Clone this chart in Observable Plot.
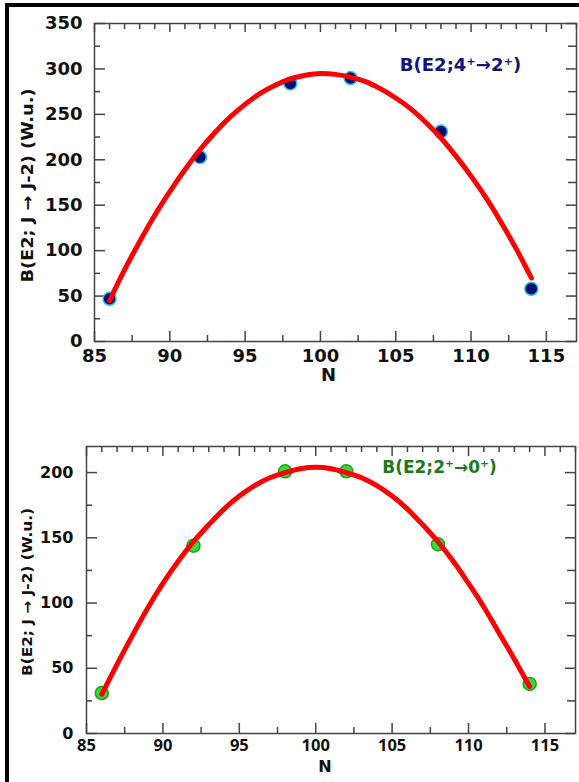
<!DOCTYPE html>
<html><head><meta charset="utf-8">
<script src="https://cdn.jsdelivr.net/npm/d3@7"></script>
<script src="https://cdn.jsdelivr.net/npm/@observablehq/plot@0.6"></script>
<style>
body{margin:0;background:#fff;}
#wrap{position:relative;width:579px;height:782px;overflow:hidden;background:#fff;}
#frame{position:absolute;left:5px;top:3px;width:600px;height:800px;border-left:4px solid #000;border-top:4px solid #000;box-sizing:border-box;}
.panel{position:absolute;left:0;}
.panel svg{display:block;overflow:visible;}
</style></head><body>
<div id="wrap"><div id="frame"></div><div id="p1" class="panel" style="top:0"></div><div id="p2" class="panel" style="top:400px"></div></div>
<script>
// experimental points
const N = [86, 92, 98, 102, 108, 114];
const be2_4to2 = [47, 203, 284, 290, 231, 58];
const be2_2to0 = [31, 144, 201, 201, 145, 38];
// fitted curves
const fitN   = [86, 87, 88, 89, 90, 91, 92, 93, 94, 95, 96, 97, 98, 99, 100, 101, 102, 103, 104, 105, 106, 107, 108, 109, 110, 111, 112, 113, 114];
const fit4to2 = [45, 79, 110, 139, 165, 189, 211, 230, 247, 261, 273, 282, 289, 293, 295, 294, 291, 286, 278, 268, 256, 241, 224, 204, 182, 158, 131, 102, 70];
const fit2to0 = [30, 53, 75, 96, 115, 132, 147, 160, 172, 182, 190, 196, 200, 203, 204, 203, 200, 196, 190, 182, 172, 160, 147, 132, 115, 97, 77, 57, 36];
// tick labels
const xTickLabels = [85, 90, 95, 100, 105, 110, 115];
const yTickLabelsTop = [0, 50, 100, 150, 200, 250, 300, 350];
const yTickLabelsBottom = [0, 50, 100, 150, 200];
const yLabelText = "B(E2; J \u2192 J-2) (W.u.)";
const xLabelText = "N";
const label4to2 = "B(E2;4\u207A\u21922\u207A)";
const label2to0 = "B(E2;2\u207A\u21920\u207A)";

const FONT = "DejaVu Sans";
const AX = "#444";

function panel(o) {
  const innerW = o.width - o.ml - o.mr;
  const innerH = o.height - o.mt - o.mb;
  const xMajor = d3.range(85, 117.01, 5);
  const xBottomMinor = d3.range(87.5, 117, 5);
  const xTopMinor = d3.range(85, 117.01, 1).filter(v => v % 5 !== 0);
  const yAll = d3.range(0, o.yMax + 0.01, 25);
  const yMaj = yAll.filter(v => v % 50 === 0);
  const yMin = yAll.filter(v => v % 50 !== 0);
  const pts = N.map((n, i) => ({n, v: o.pts[i]}));
  const fit = fitN.map((n, i) => ({n, v: o.fit[i]}));
  const svg = Plot.plot({
    width: o.width, height: o.height,
    marginLeft: o.ml, marginRight: o.mr, marginTop: o.mt, marginBottom: o.mb,
    x: {domain: [85, 117], axis: null},
    y: {domain: [0, o.yMax], axis: null},
    style: {fontFamily: FONT, background: "transparent", overflow: "visible"},
    marks: [
      Plot.frame({stroke: AX, strokeWidth: 1.5}),
      // bottom ticks
      Plot.tickX(xMajor, {x: d => d, insetTop: innerH - o.xMajLen, stroke: AX, strokeWidth: 1.5}),
      Plot.tickX(xBottomMinor, {x: d => d, insetTop: innerH - 6, stroke: AX, strokeWidth: 1.5}),
      // top ticks
      Plot.tickX(xMajor, {x: d => d, insetBottom: innerH - o.topMajLen, stroke: AX, strokeWidth: 1.5}),
      Plot.tickX(xTopMinor, {x: d => d, insetBottom: innerH - 6, stroke: AX, strokeWidth: 1.5}),
      // left ticks
      Plot.tickY(yMaj, {y: d => d, insetRight: innerW - 11, stroke: AX, strokeWidth: 1.5}),
      Plot.tickY(yMin, {y: d => d, insetRight: innerW - 6, stroke: AX, strokeWidth: 1.5}),
      // right ticks
      Plot.tickY(yMaj, {y: d => d, insetLeft: innerW - 10, stroke: AX, strokeWidth: 1.5}),
      Plot.tickY(yMin, {y: d => d, insetLeft: innerW - 8, stroke: AX, strokeWidth: 1.5}),
      // tick labels
      Plot.text(xTickLabels, {x: d => d, frameAnchor: "bottom", dy: o.xLabDy, text: d => String(d), fontSize: o.xFont, fontWeight: "bold", fontFamily: o.xFamily, fill: "#111"}),
      Plot.text(o.yLabels, {y: d => d, frameAnchor: "left", dx: o.yLabDx, textAnchor: "end", text: d => String(d), fontSize: o.yFont, fontWeight: "bold", fill: "#111"}),
      // axis titles
      Plot.text([xLabelText], {frameAnchor: "bottom", dx: o.nDx, dy: o.nDy, text: d => d, fontSize: o.nFont, fontWeight: "bold", fill: "#111"}),
      Plot.text([yLabelText], {frameAnchor: "left", rotate: -90, dx: o.ytDx, dy: o.ytDy, text: d => d, fontSize: o.ytFont, fontWeight: "bold", fill: "#111"}),
      // data
      Plot.dot(pts, {x: "n", y: "v", r: 6.5, fill: o.ptFill, stroke: o.ptStroke, strokeWidth: 1.5}),
      Plot.line(fit, {x: "n", y: "v", stroke: "#ff0000", strokeWidth: 5, curve: "catmull-rom"}),
      Plot.text([o.label], {x: o.labX, y: o.labY, text: d => d, fontSize: o.labFont, fontWeight: "bold", fill: o.labColor})
    ]
  });
  // condense the y title to the reference's length, centred on its anchor
  svg.querySelectorAll("text").forEach(t => {
    if (t.textContent === yLabelText) {
      t.setAttribute("text-anchor", "start");
      t.setAttribute("x", -o.ytLen / 2);
      t.setAttribute("textLength", o.ytLen);
      t.setAttribute("lengthAdjust", "spacingAndGlyphs");
    }
  });
  return svg;
}

document.getElementById("p1").append(panel({
  width: 579, height: 400, ml: 94, mr: 3, mt: 23, mb: 59, yMax: 350,
  xMajLen: 10, topMajLen: 9,
  yLabels: yTickLabelsTop, pts: be2_4to2, fit: fit4to2,
  xLabDy: 20, xFont: 18, xFamily: FONT, yLabDx: -12, yFont: 18,
  nDx: -7, nDy: 39, nFont: 18,
  ytDx: -67, ytDy: 3, ytFont: 16, ytLen: 194,
  ptFill: "#0a0a70", ptStroke: "#22c8ee",
  label: label4to2, labX: 109.3, labY: 304, labFont: 18, labColor: "#14147a"
}));

document.getElementById("p2").append(panel({
  width: 579, height: 382, ml: 86, mr: 4, mt: 46, mb: 49, yMax: 220,
  xMajLen: 10, topMajLen: 10,
  yLabels: yTickLabelsBottom, pts: be2_2to0, fit: fit2to0,
  xLabDy: 17, xFont: 16.5, xFamily: "Open Sans", yLabDx: -13, yFont: 16,
  nDx: -6, nDy: 38, nFont: 16,
  ytDx: -59, ytDy: 2, ytFont: 14, ytLen: 168,
  ptFill: "#33dd33", ptStroke: "#1f9f1f",
  label: label2to0, labX: 108.1, labY: 204, labFont: 17, labColor: "#1b7a1b"
}));
</script>
</body></html>
